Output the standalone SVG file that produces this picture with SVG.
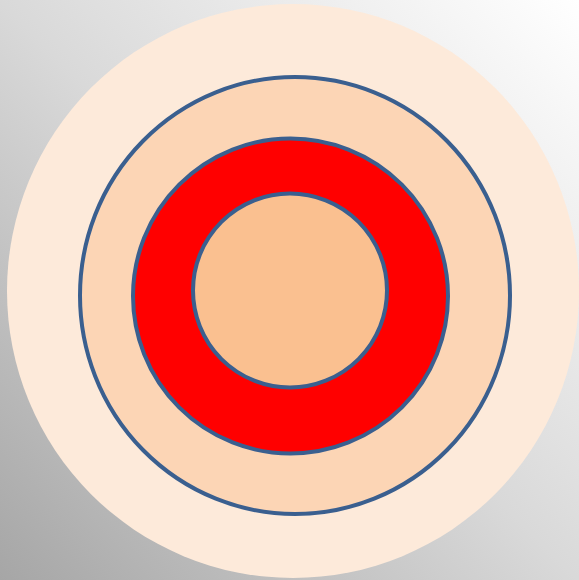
<svg xmlns="http://www.w3.org/2000/svg" width="579" height="580" viewBox="0 0 579 580">
<defs>
<linearGradient id="bg" x1="0" y1="1" x2="1" y2="0">
<stop offset="0" stop-color="#A6A6A6"/>
<stop offset="0.5" stop-color="#D9D9D9"/>
<stop offset="1" stop-color="#FFFFFF"/>
</linearGradient>
<style>
.ring{stroke:#3A5F8F;stroke-width:4}
</style>
</defs>
<rect x="0" y="0" width="579" height="580" fill="url(#bg)"/>
<g id="outer"><ellipse cx="293" cy="291" rx="286" ry="287" fill="#FDEADA"/></g>
<g id="middle"><ellipse class="ring" cx="295" cy="295.5" rx="215" ry="218.5" fill="#FCD5B5"/></g>
<g id="redring"><circle class="ring" cx="290.5" cy="296" r="157.5" fill="#FF0000"/></g>
<g id="inner"><circle class="ring" cx="290" cy="290.5" r="97" fill="#FAC090"/></g>
</svg>
